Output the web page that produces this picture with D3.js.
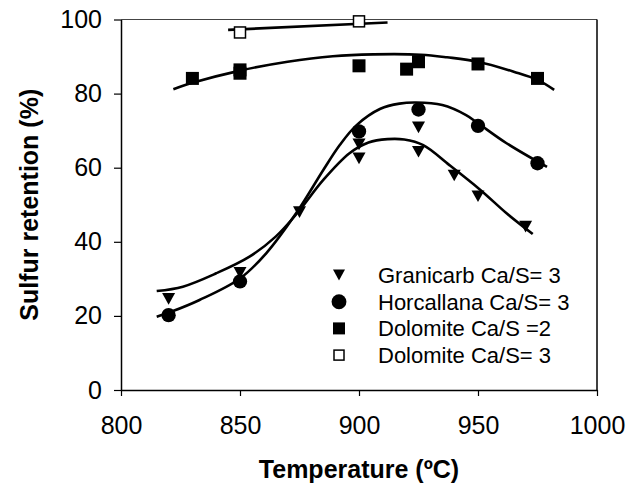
<!DOCTYPE html>
<html>
<head>
<meta charset="utf-8">
<script src="https://cdn.jsdelivr.net/npm/d3@7"></script>
<style>
  html, body { margin: 0; padding: 0; background: #fff; }
  svg { display: block; }
  text { font-family: Arial, "Liberation Sans", sans-serif; fill: #000; }
</style>
</head>
<body>
<svg id="chart" width="630" height="491"></svg>
<script>
// Measured sulfur retention (%) versus temperature (ºC)
const granicarbT = [820, 850, 875, 900, 900, 925, 925, 940, 950, 970];
const granicarbS = [24.6, 31.6, 48.0, 66.3, 62.5, 70.9, 64.3, 57.9, 52.3, 44.1];
const horcallanaT = [820, 850, 900, 925, 950, 975];
const horcallanaS = [20.2, 29.3, 69.8, 75.7, 71.3, 61.2];
const dolomite2T = [830, 850, 850, 900, 920, 925, 950, 975];
const dolomite2S = [84.1, 86.4, 85.5, 87.5, 86.6, 88.6, 88.0, 84.1];
const dolomite3T = [850, 900];
const dolomite3S = [96.5, 99.5];

// Trend curves for each series
const granicarbFitT = [815, 826, 840, 854, 865, 874, 885, 896, 904, 912, 919, 927, 938, 951, 962, 973];
const granicarbFitS = [26.7, 27.9, 31.5, 36.0, 41.4, 47.7, 56.7, 63.9, 66.8, 67.7, 67.6, 66.1, 60.7, 54.0, 47.7, 42.1];
const horcallanaFitT = [815, 821, 833, 850, 861, 874, 885, 892, 899, 909, 917, 924, 935, 945, 950, 962, 979];
const horcallanaFitS = [19.8, 21.1, 24.3, 30.1, 36.9, 48.1, 59.4, 66.2, 71.5, 75.9, 77.3, 77.6, 76.9, 74.2, 72.0, 66.6, 60.2];
const dolomite2FitT = [822, 830, 850, 870, 889, 906, 926, 937, 950, 965, 975, 982];
const dolomite2FitS = [81.2, 82.9, 86.2, 88.6, 90.1, 90.6, 90.5, 89.8, 88.6, 85.9, 83.7, 81.0];
const dolomite3FitT = [845, 912];
const dolomite3FitS = [97.2, 99.2];

// Axis ticks
const xTicks = [800, 850, 900, 950, 1000];
const yTicks = [0, 20, 40, 60, 80, 100];

const seriesNames = ["Granicarb Ca/S= 3", "Horcallana Ca/S= 3", "Dolomite Ca/S =2", "Dolomite Ca/S= 3"];
const seriesShapes = ["triangle", "circle", "square", "openSquare"];

const svg = d3.select("#chart");
const plotLeft = 121, plotRight = 597, plotTop = 19.5, plotBottom = 390;

const x = d3.scaleLinear().domain([800, 1000]).range([plotLeft, plotRight]);
const y = d3.scaleLinear().domain([0, 100]).range([plotBottom, plotTop]);

// Plot frame (top and right edges)
svg.append("line").attr("x1", plotLeft).attr("x2", plotRight).attr("y1", plotTop).attr("y2", plotTop)
  .attr("stroke", "#444").attr("stroke-width", 1);
svg.append("line").attr("x1", plotRight).attr("x2", plotRight).attr("y1", plotTop).attr("y2", plotBottom)
  .attr("stroke", "#000").attr("stroke-width", 1.5);

// Axes
const xAxis = svg.append("g").attr("transform", `translate(0,${plotBottom})`)
  .call(d3.axisBottom(x).tickValues(xTicks).tickFormat(d3.format("d"))
    .tickSize(6).tickSizeOuter(0).tickPadding(20));
const yAxis = svg.append("g").attr("transform", `translate(${plotLeft},0)`)
  .call(d3.axisLeft(y).tickValues(yTicks).tickFormat(d3.format("d"))
    .tickSize(7).tickSizeOuter(0).tickPadding(12));
[xAxis, yAxis].forEach(g => {
  g.select(".domain").attr("stroke", "#000").attr("stroke-width", 1.5);
  g.selectAll(".tick line").attr("stroke", "#000").attr("stroke-width", 1.2);
  g.selectAll(".tick text").attr("font-size", 25).attr("font-family", "Arial, 'Liberation Sans', sans-serif").attr("fill", "#000");
});

// Axis titles
svg.append("text").attr("x", (plotLeft + plotRight) / 2).attr("y", 478)
  .attr("text-anchor", "middle").attr("font-size", 25).attr("font-weight", "bold")
  .text("Temperature (ºC)");
svg.append("text")
  .attr("transform", `translate(38,${(plotTop + plotBottom) / 2}) rotate(-90)`)
  .attr("text-anchor", "middle").attr("font-size", 25).attr("font-weight", "bold")
  .text("Sulfur retention (%)");

// Trend curves
const line = d3.line().x(d => x(d[0])).y(d => y(d[1])).curve(d3.curveCatmullRom.alpha(0.5));
const fits = [
  [granicarbFitT, granicarbFitS],
  [horcallanaFitT, horcallanaFitS],
  [dolomite2FitT, dolomite2FitS],
  [dolomite3FitT, dolomite3FitS]
];
fits.forEach(([t, s]) => {
  svg.append("path").datum(t.map((v, i) => [v, s[i]]))
    .attr("d", line).attr("fill", "none").attr("stroke", "#000").attr("stroke-width", 2.6);
});

// Marker drawing
function drawMarker(g, shape, cx, cy, size) {
  if (shape === "triangle") {
    const w = size, h = size * 0.9;
    g.append("path")
      .attr("d", `M${cx - w / 2},${cy - h / 2}L${cx + w / 2},${cy - h / 2}L${cx},${cy + h / 2}Z`)
      .attr("fill", "#000");
  } else if (shape === "circle") {
    g.append("circle").attr("cx", cx).attr("cy", cy).attr("r", size * 0.55).attr("fill", "#000");
  } else if (shape === "square") {
    g.append("rect").attr("x", cx - size / 2).attr("y", cy - size / 2)
      .attr("width", size).attr("height", size).attr("fill", "#000");
  } else {
    g.append("rect").attr("x", cx - size / 2 + 0.75).attr("y", cy - size / 2 + 0.75)
      .attr("width", size - 1.5).attr("height", size - 1.5)
      .attr("fill", "#fff").attr("stroke", "#000").attr("stroke-width", 1.5);
  }
}

const points = [
  [granicarbT, granicarbS, "triangle", 13],
  [horcallanaT, horcallanaS, "circle", 13],
  [dolomite2T, dolomite2S, "square", 13],
  [dolomite3T, dolomite3S, "openSquare", 12.5]
];
const markers = svg.append("g");
points.forEach(([t, s, shape, size]) => {
  t.forEach((v, i) => drawMarker(markers, shape, x(v), y(s[i]), size));
});

// Legend
const legend = svg.append("g");
seriesNames.forEach((name, i) => {
  const cy = 275 + i * 26.7;
  const sz = [12, 13.5, 12, 11.5][i];
  drawMarker(legend, seriesShapes[i], 339, cy, sz);
  legend.append("text").attr("x", 378).attr("y", cy + 8)
    .attr("font-size", 22).text(name);
});
</script>
</body>
</html>
